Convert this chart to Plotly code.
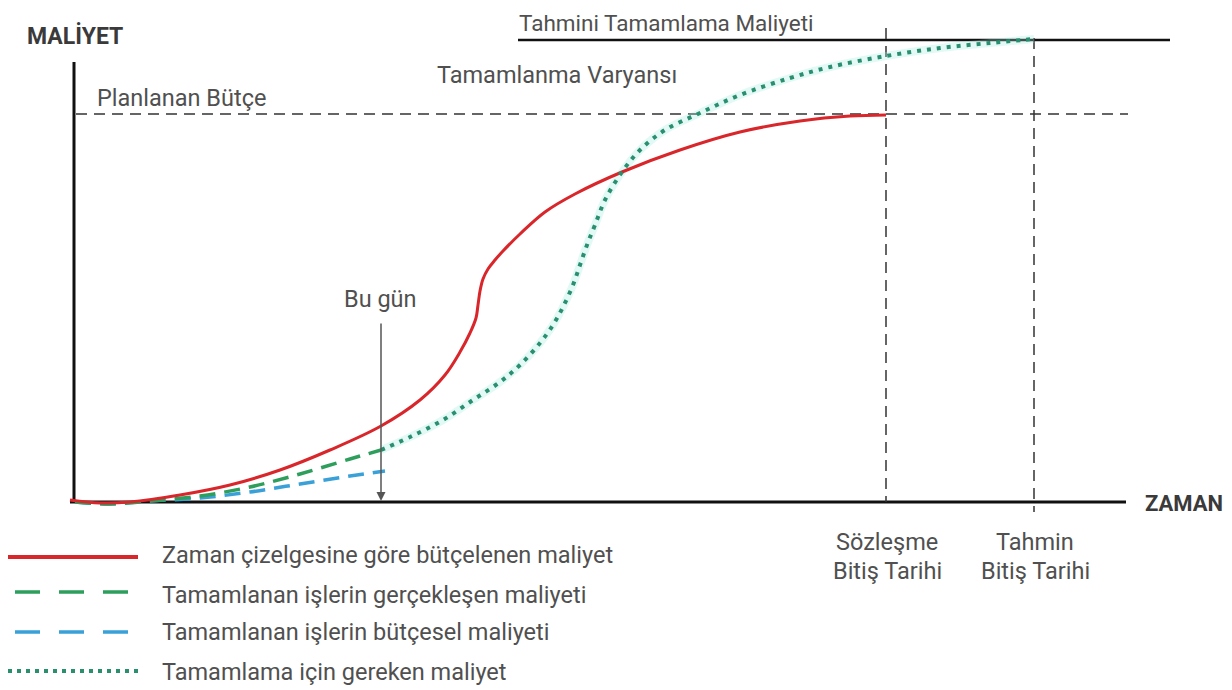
import plotly.graph_objects as go

# Pixel-like coordinate system (x right, y down)
red_x = [70, 100, 130, 180, 230, 280, 330, 381, 420, 445, 460, 470, 476, 478, 480, 483, 488, 495, 503, 520, 545, 575, 622, 680, 740, 800, 850, 886]
red_y = [500, 503, 502, 495, 485, 470, 450, 426, 400, 375, 352, 333, 318, 305, 291, 279, 269, 260, 251, 234, 212, 194, 172, 150, 132, 121, 116, 115]

green_dash_x = [75, 110, 150, 200, 250, 300, 350, 381]
green_dash_y = [502, 504, 501, 496, 487, 474, 459, 450]

blue_dash_x = [75, 110, 150, 200, 250, 300, 350, 385]
blue_dash_y = [502, 504, 501, 498, 492, 484, 476, 471]

dot_x = [381, 410, 443, 473, 500, 520, 540, 553, 563, 573, 580, 587, 595, 605, 622, 640, 665, 700, 740, 790, 830, 886, 940, 990, 1034]
dot_y = [450, 437, 420, 400, 382, 365, 343, 325, 307, 285, 265, 245, 225, 200, 172, 150, 130, 113, 95, 78, 67, 56, 48, 43, 39]

legend_labels = [
    "Zaman çizelgesine göre bütçelenen maliyet",
    "Tamamlanan işlerin gerçekleşen maliyeti",
    "Tamamlanan işlerin bütçesel maliyeti",
    "Tamamlama için gereken maliyet",
]

RED = "#d9262b"
GREEN = "#2e9e5c"
BLUE = "#3aa0d8"
TEAL = "#2a8f6e"
TXT = "#505050"
FONT = "Roboto"
FS = 23.5

fig = go.Figure()

fig.add_trace(go.Scatter(x=dot_x, y=dot_y, mode="lines", line=dict(color="rgba(160,235,225,0.3)", width=8, shape="spline"), hoverinfo="skip"))
fig.add_trace(go.Scatter(x=blue_dash_x, y=blue_dash_y, mode="lines", line=dict(color=BLUE, width=3.5, dash="16px,9px", shape="spline")))
fig.add_trace(go.Scatter(x=green_dash_x, y=green_dash_y, mode="lines", line=dict(color=GREEN, width=3.5, dash="16px,9px", shape="spline")))
fig.add_trace(go.Scatter(x=red_x, y=red_y, mode="lines", line=dict(color=RED, width=3, shape="spline", smoothing=1)))
fig.add_trace(go.Scatter(x=dot_x, y=dot_y, mode="lines", line=dict(color=TEAL, width=4, dash="4px,6px", shape="spline")))

shapes = []
def line(x0, y0, x1, y1, color="#111", width=2, dash=None):
    d = dict(type="line", xref="x", yref="y", x0=x0, y0=y0, x1=x1, y1=y1,
             line=dict(color=color, width=width), layer="below")
    if dash:
        d["line"]["dash"] = dash
    shapes.append(d)

# axes
line(74, 62, 74, 503, width=3)
line(70, 502, 1126, 502, width=3)
# top estimated completion cost line
line(518, 40, 1170, 40, width=2.5)
# planned budget dashed
line(76, 114, 1128, 114, color="#333", width=1.5, dash="11px,7px")
# vertical dashed
line(886, 28, 886, 502, color="#333", width=1.5, dash="11px,7px")
line(1034, 38, 1034, 512, color="#333", width=1.5, dash="11px,7px")

# legend samples
leg_y = [557, 592, 632, 671]
line(8, leg_y[0], 138, leg_y[0], color=RED, width=4)
line(15, leg_y[1], 132, leg_y[1], color=GREEN, width=3.5, dash="25px,19px")
line(15, leg_y[2], 132, leg_y[2], color=BLUE, width=3.5, dash="25px,19px")
line(8, leg_y[3], 140, leg_y[3], color=TEAL, width=4, dash="4px,5px")

fig.update_layout(shapes=shapes)

ann = []
def text(x, y, s, size=FS, bold=False, xanchor="left", color=TXT):
    ann.append(dict(x=x, y=y, xref="x", yref="y", text=f"<b>{s}</b>" if bold else s,
                    showarrow=False, xanchor=xanchor, yanchor="middle",
                    font=dict(family=FONT, size=size, color=color)))

text(25, 36, "MALİYET", size=23, bold=True, color="#3a3a3a")
text(95, 98, "Planlanan Bütçe")
text(517, 23, "Tahmini Tamamlama Maliyeti", size=22.5)
text(435, 75, "Tamamlanma Varyansı")
text(380, 299, "Bu gün", xanchor="center")
text(1143, 503, "ZAMAN", size=22, bold=True, color="#3a3a3a")
text(887, 542, "Sözleşme", xanchor="center")
text(887, 571, "Bitiş Tarihi", xanchor="center")
text(1035, 542, "Tahmin", xanchor="center")
text(1035, 571, "Bitiş Tarihi", xanchor="center")
for lbl, yy in zip(legend_labels, [555, 595, 632, 672]):
    text(160, yy, lbl)

ann.append(dict(x=381, y=501, ax=381, ay=322, xref="x", yref="y", axref="x", ayref="y",
                showarrow=True, arrowhead=2, arrowsize=1.2, arrowwidth=1.5, arrowcolor="#555", text=""))

# page body has an 8px default margin: size the figure and ranges so data units equal screen pixels
fig.update_layout(
    annotations=ann,
    width=1224, height=682,
    margin=dict(l=0, r=0, t=0, b=0),
    paper_bgcolor="white", plot_bgcolor="white",
    showlegend=False,
    xaxis=dict(range=[8, 1232], visible=False, fixedrange=True),
    yaxis=dict(range=[690, 8], visible=False, fixedrange=True),
)

fig.write_html("out.html")
